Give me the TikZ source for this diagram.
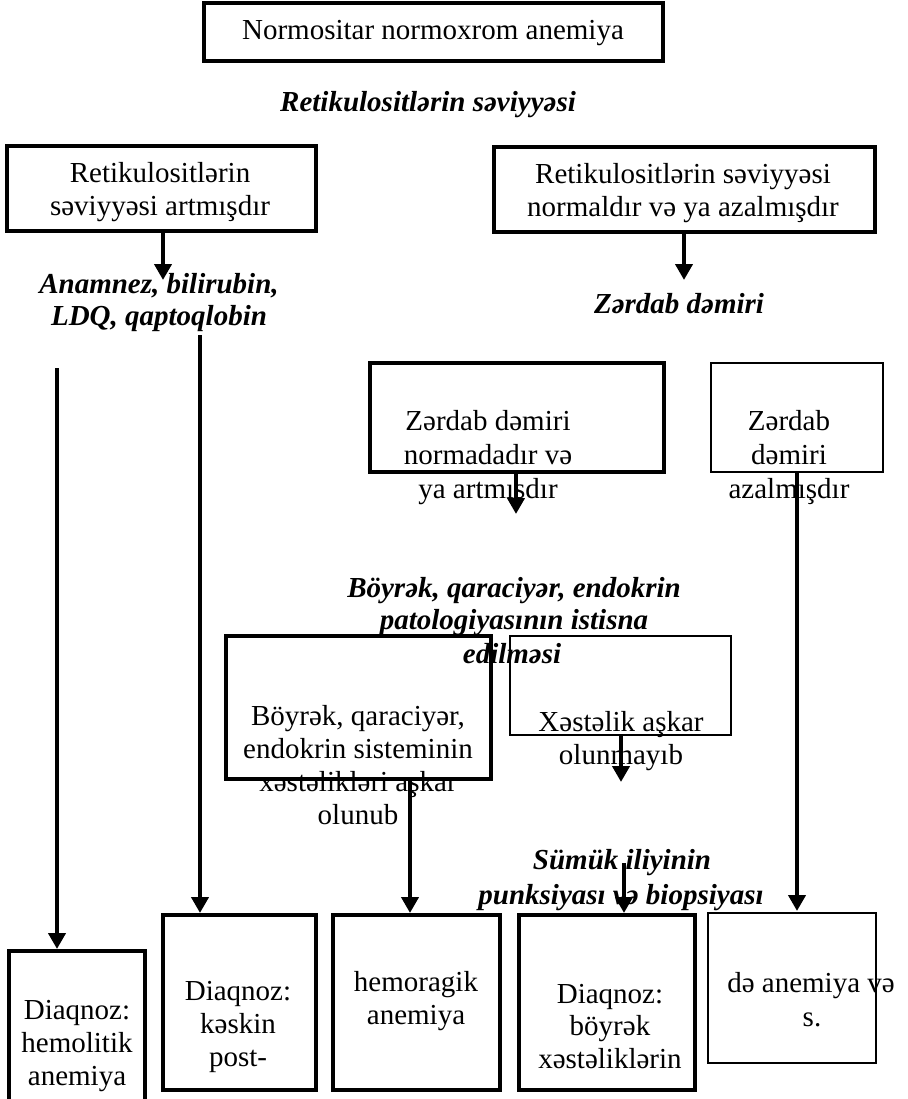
\documentclass[tikz,border=0pt]{standalone}
\usepackage{fontspec}
\setmainfont{Liberation Serif}
\usetikzlibrary{arrows.meta}
\begin{document}
\begin{tikzpicture}[x=1pt,y=-1pt,
  box/.style={draw, line width=3.3pt, inner sep=0pt, outer sep=0pt},
  txt/.style={anchor=base, inner sep=0pt, font=\fontsize{29}{33}\selectfont},
  lab/.style={anchor=base, inner sep=0pt, font=\fontsize{29}{33}\selectfont\bfseries\itshape},
  arr/.style={line width=4.8pt, -{Triangle[width=17pt,length=16pt]}},
  ln/.style={line width=4.8pt}]
\useasboundingbox (0,0) rectangle (907,1099);

% ---------- texts ----------
\node[txt] (t0) at (433,40) {Normositar normoxrom anemiya};
\node[lab] (q1) at (428,112) {Retikulositlərin səviyyəsi};
\node[txt] (tL1a) at (160,183) {Retikulositlərin};
\node[txt] (tL1b) at (160,215) {səviyyəsi artmışdır};
\node[txt] (tR1a) at (683,184) {Retikulositlərin səviyyəsi};
\node[txt] (tR1b) at (683,217) {normaldır və ya azalmışdır};
\node[lab] (q2a) at (159,293) {Anamnez, bilirubin,};
\node[lab] (q2b) at (159,325) {LDQ, qaptoqlobin};
\node[lab] (q3) at (679,313) {Zərdab dəmiri};
\node[txt] (tZ1a) at (488,430) {Zərdab dəmiri};
\node[txt] (tZ1b) at (488,464) {normadadır və};
\node[txt] (tZ1c) at (488,498) {ya artmışdır};
\node[txt] (tZ2a) at (789,430) {Zərdab};
\node[txt] (tZ2b) at (789,464) {dəmiri};
\node[txt] (tZ2c) at (789,498) {azalmışdır};
\node[lab] (q4a) at (514,597) {Böyrək, qaraciyər, endokrin};
\node[lab] (q4b) at (514,629) {patologiyasının istisna};
\node[lab] (q4c) at (512,663) {edilməsi};
\node[txt] (tB1a) at (358,725) {Böyrək, qaraciyər,};
\node[txt] (tB1b) at (358,758) {endokrin sisteminin};
\node[txt] (tB1c) at (358,791) {xəstəlikləri aşkar};
\node[txt] (tB1d) at (358,824) {olunub};
\node[txt] (tB2a) at (621,731) {Xəstəlik aşkar};
\node[txt] (tB2b) at (621,764) {olunmayıb};
\node[lab] (q5a) at (622,869) {Sümük iliyinin};
\node[lab] (q5b) at (621,904) {punksiyası və biopsiyası};
\node[txt] (tD1a) at (77,1019) {Diaqnoz:};
\node[txt] (tD1b) at (77,1052) {hemolitik};
\node[txt] (tD1c) at (77,1085) {anemiya};
\node[txt] (tD2a) at (238,1000) {Diaqnoz:};
\node[txt] (tD2b) at (238,1033) {kəskin};
\node[txt] (tD2c) at (238,1066) {post-};
\node[txt] (tD3a) at (416,991) {hemoragik};
\node[txt] (tD3b) at (416,1024) {anemiya};
\node[txt] (tD4a) at (610,1003) {Diaqnoz:};
\node[txt] (tD4b) at (610,1035) {böyrək};
\node[txt] (tD4c) at (610,1068) {xəstəliklərin};
\node[txt] (tD5a) at (811,992) {də anemiya və};
\node[txt] (tD5b) at (812,1026) {s.};

% ---------- boxes ----------
\node[box, minimum width=459pt, minimum height=58pt] (top) at (433.5,32) {};
\node[box, minimum width=309pt, minimum height=85pt] (L1) at (161.5,188.5) {};
\node[box, minimum width=381pt, minimum height=85pt] (R1) at (684.5,189.5) {};
\node[box, minimum width=294pt, minimum height=109pt] (Z1) at (517,417.5) {};
\node[box, line width=2.8pt, minimum width=172pt, minimum height=109pt] (Z2) at (797,417.5) {};
\node[box, minimum width=265pt, minimum height=143pt] (B1) at (358.5,707.5) {};
\node[box, line width=2.8pt, minimum width=221pt, minimum height=99pt] (B2) at (620.5,685.5) {};
\node[box, minimum width=136pt, minimum height=170pt] (D1) at (77,1036) {};
\node[box, minimum width=153pt, minimum height=175pt] (D2) at (239.5,1002.5) {};
\node[box, minimum width=167pt, minimum height=175pt] (D3) at (416.5,1002.5) {};
\node[box, minimum width=176pt, minimum height=175pt] (D4) at (607,1002.5) {};
\node[box, line width=2.8pt, minimum width=168pt, minimum height=150pt] (D5) at (792,988) {};

% ---------- connector ends ----------
\coordinate (e1) at (163,280);
\coordinate (e2) at (684,280);
\coordinate (s3) at (200,335);
\coordinate (e3) at (200,913);
\coordinate (s4) at (57,368);
\coordinate (e4) at (57,949);
\coordinate (e5) at (516,514);
\coordinate (e6) at (797,911);
\coordinate (e7) at (410,913);
\coordinate (e8) at (621,782);
\coordinate (s9) at (624,863);
\coordinate (e9) at (624,913);

% ---------- connectors ----------
\draw[arr] (L1.south -| e1) -- (e1);
\draw[arr] (R1.south -| e2) -- (e2);
\draw[arr] (s3) -- (e3);
\draw[arr] (s4) -- (e4);
\draw[arr] (Z1.south -| e5) -- (e5);
\draw[arr] (Z2.south -| e6) -- (e6);
\draw[arr] (B1.south -| e7) -- (e7);
\draw[arr] (B2.south -| e8) -- (e8);
\draw[arr] (s9) -- (e9);
\end{tikzpicture}
\end{document}
